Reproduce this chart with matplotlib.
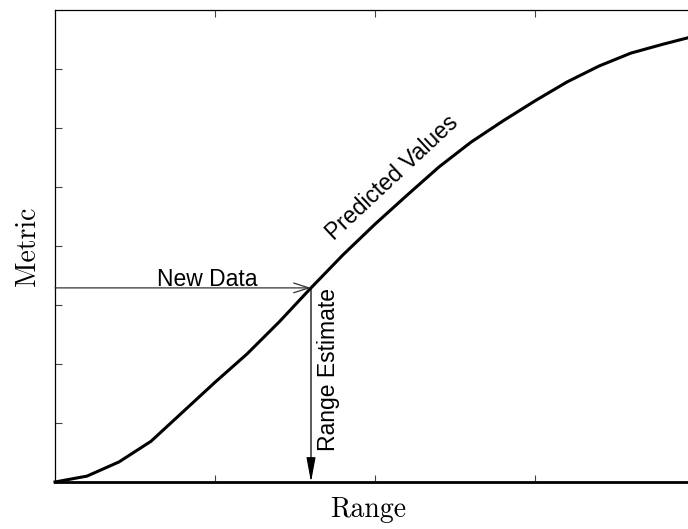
import matplotlib
matplotlib.use("Agg")
from matplotlib import pyplot as plt

# predicted curve
range_vals = [0.0, 0.2, 0.4, 0.6, 0.8, 1.0, 1.2, 1.4, 1.6, 1.8, 2.0,
              2.2, 2.4, 2.6, 2.8, 3.0, 3.2, 3.4, 3.6, 3.8, 4.0]
metric_vals = [0.0, 0.10, 0.34, 0.69, 1.19, 1.69, 2.17, 2.71, 3.29, 3.85, 4.37,
               4.86, 5.34, 5.76, 6.12, 6.46, 6.78, 7.05, 7.27, 7.42, 7.56]

new_data = 3.29
range_estimate = 1.6
x_ticks = [1, 2, 3]
y_ticks = [1, 2, 3, 4, 5, 6, 7]

fig = plt.figure(figsize=(6.88, 5.29), dpi=100)
ax = fig.add_axes([55 / 688, 47 / 529, 640 / 688, 472 / 529])

ax.plot(range_vals, metric_vals, color="black", lw=2.2, clip_on=False)

ax.annotate("", xy=(range_estimate, new_data), xytext=(0, new_data),
            arrowprops=dict(arrowstyle="->,head_length=1.1,head_width=0.35",
                            color="#333333", lw=0.9, shrinkA=0, shrinkB=0))
ax.annotate("", xy=(range_estimate, 0), xytext=(range_estimate, new_data),
            arrowprops=dict(arrowstyle="-|>,head_length=1.5,head_width=0.28",
                            color="black", lw=0.9, shrinkA=0, shrinkB=0))

ax.text(0.95, new_data + 0.04, "New Data", family="Liberation Sans", fontsize=16.5,
        ha="center", va="baseline")
ax.text(range_estimate + 0.04, 1.9, "Range Estimate", family="Liberation Sans",
        fontsize=16.5, rotation=90, ha="left", va="center")
ax.text(2.11, 5.15, "Predicted Values", family="Liberation Sans", fontsize=16.5,
        rotation=43, rotation_mode="anchor", ha="center", va="center")

ax.set_xlim(0, 4)
ax.set_ylim(0, 8)
ax.set_xticks(x_ticks)
ax.set_yticks(y_ticks)
ax.tick_params(direction="in", top=True, right=True, labelbottom=False,
               labelleft=False, length=5, width=0.8, color="#444444")
for s in ax.spines.values():
    s.set_linewidth(0.9)
ax.spines["bottom"].set_linewidth(2)

ax.set_xlabel("Range", family="cmr10", fontsize=20)
ax.set_ylabel("Metric", family="cmr10", fontsize=20, labelpad=10)
ax.xaxis.set_label_coords(0.489, -0.032, transform=ax.transAxes)
ax.xaxis.label.set_va("top")

fig.savefig("out.png", dpi=100)
